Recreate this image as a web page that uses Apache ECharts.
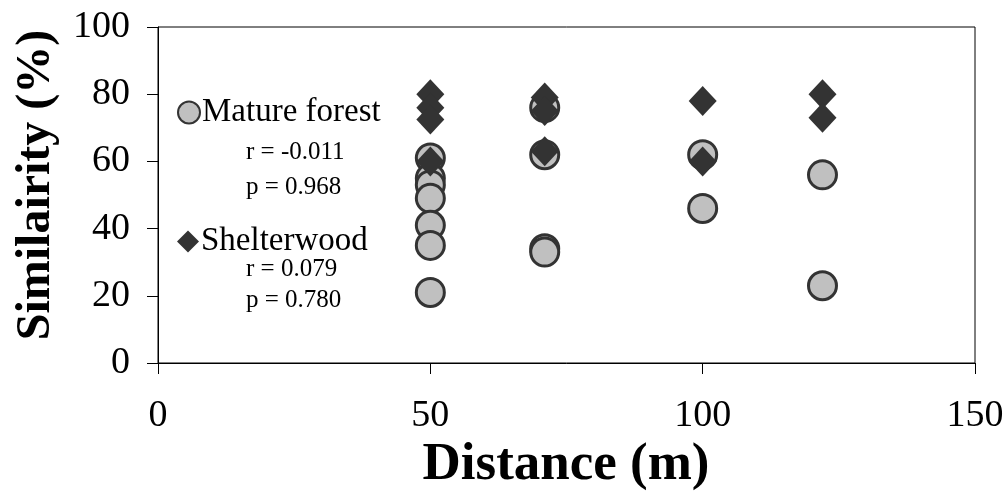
<!DOCTYPE html>
<html>
<head>
<meta charset="utf-8">
<style>
  html, body { margin: 0; padding: 0; background: #fff; }
  #chart { width: 1008px; height: 492px; }
</style>
<script src="https://cdn.jsdelivr.net/npm/echarts@6/dist/echarts.min.js"></script>
</head>
<body>
<div id="chart"></div>
<script>
// Distance between plots (m) and pairwise similarity (%)
const matureDistance = [50, 50, 50, 50, 50, 50, 50, 71, 71, 71, 71, 100, 100, 122, 122];
const matureSimilarity = [61, 55, 53, 49, 41, 35, 21, 76, 62, 34, 33, 62, 46, 56, 23];

const shelterDistance = [50, 50, 50, 50, 71, 71, 71, 100, 100, 122, 122];
const shelterSimilarity = [80, 76, 72.5, 60, 79, 75, 63, 78, 60, 80, 73];

const xTicks = [0, 50, 100, 150];
const yTicks = [0, 20, 40, 60, 80, 100];

const seriesNames = ['Mature forest', 'Shelterwood'];
const matureStats = ['r = -0.011', 'p = 0.968'];
const shelterStats = ['r = 0.079', 'p = 0.780'];

const FONT = '"Liberation Serif", "Times New Roman", serif';

const zip = (xs, ys) => xs.map((x, i) => [x, ys[i]]);

const chart = echarts.init(document.getElementById('chart'), null, { renderer: 'canvas' });

// Correlation statistics printed under each legend entry
const statText = (lines, left, centers) => lines.map((t, i) => ({
  type: 'text', x: left, y: centers[i],
  style: { text: t, font: '25px ' + FONT, fill: '#000', verticalAlign: 'middle' }
}));

chart.setOption({
  animation: false,
  backgroundColor: '#fff',
  grid: {
    left: 158, top: 27, right: 33, bottom: 129,
    show: true, borderColor: '#000', borderWidth: 1, backgroundColor: 'transparent'
  },
  xAxis: {
    type: 'value', min: xTicks[0], max: xTicks[xTicks.length - 1], interval: 50,
    splitLine: { show: false },
    axisLine: { show: true, lineStyle: { color: '#000', width: 1 } },
    axisTick: { show: true, inside: false, length: 11, lineStyle: { color: '#000' } },
    axisLabel: { fontFamily: FONT, fontSize: 38, color: '#000', margin: 34 }
  },
  yAxis: {
    type: 'value', min: yTicks[0], max: yTicks[yTicks.length - 1], interval: 20,
    splitLine: { show: false },
    axisLine: { show: true, lineStyle: { color: '#000', width: 1 } },
    axisTick: { show: true, inside: false, length: 11, lineStyle: { color: '#000' } },
    axisLabel: { fontFamily: FONT, fontSize: 38, color: '#000', margin: 28 }
  },
  legend: [
    {
      data: [seriesNames[0]], left: 172, top: 91, itemWidth: 22, itemHeight: 22, itemGap: 4,
      textStyle: { fontFamily: FONT, fontSize: 33, color: '#000', padding: [0, 0, 0, -3] }
    },
    {
      data: [seriesNames[1]], left: 172, top: 220, itemWidth: 22, itemHeight: 22, itemGap: 4,
      textStyle: { fontFamily: FONT, fontSize: 33, color: '#000', padding: [0, 0, 0, -3] }
    }
  ],
  graphic: [
    {
      type: 'text', x: 37, y: 185, rotation: Math.PI / 2,
      style: {
        text: 'Similairity (%)', font: 'bold 48px ' + FONT, fill: '#000',
        align: 'center', verticalAlign: 'middle'
      }
    },
    {
      type: 'text', x: 566, y: 465,
      style: {
        text: 'Distance (m)', font: 'bold 53px ' + FONT, fill: '#000',
        align: 'center', verticalAlign: 'middle'
      }
    },
    ...statText(matureStats, 246, [152, 187]),
    ...statText(shelterStats, 246, [269, 300])
  ],
  series: [
    {
      name: seriesNames[0], type: 'scatter', symbol: 'circle', symbolSize: 28,
      data: zip(matureDistance, matureSimilarity),
      itemStyle: { color: '#c0c0c0', borderColor: '#333', borderWidth: 3, opacity: 1 },
      z: 2
    },
    {
      name: seriesNames[1], type: 'scatter', symbol: 'diamond', symbolSize: [28, 30],
      data: zip(shelterDistance, shelterSimilarity),
      itemStyle: { color: '#333', opacity: 1 },
      z: 3
    }
  ]
});
</script>
</body>
</html>
